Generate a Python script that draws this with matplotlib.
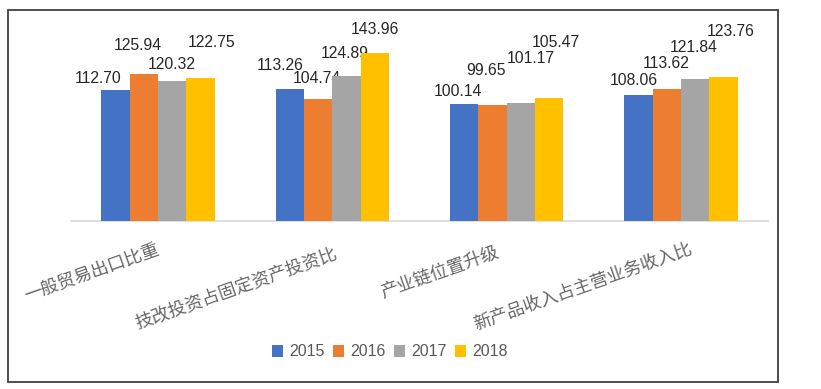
import matplotlib
matplotlib.use("Agg")
import matplotlib.pyplot as plt
from matplotlib.patches import Rectangle
import numpy as np

categories = ["一般贸易出口比重", "技改投资占固定资产投资比", "产业链位置升级", "新产品收入占主营业务收入比"]
years = ["2015", "2016", "2017", "2018"]
v2015 = [112.70, 113.26, 100.14, 108.06]
v2016 = [125.94, 104.74, 99.65, 113.62]
v2017 = [120.32, 124.89, 101.17, 121.84]
v2018 = [122.75, 143.96, 105.47, 123.76]
series = [v2015, v2016, v2017, v2018]
colors = ["#4472C4", "#ED7D31", "#A5A5A5", "#FFC000"]

# label offsets in pixels (dx, dy of label centre above bar top), per series, per category
label_offsets = [
    [(-17.5, 13), (-9.5, 25), (-6.5, 14), (-4.5, 16)],
    [(-6, 30), (-1, 22), (-6, 36), (-1, 27)],
    [(-1, 18), (-1.5, 24), (9.5, 46), (-1, 33)],
    [(11, 37), (0, 25), (6.5, 57), (7.5, 47)],
]
cat_offsets = [(1, -28), (4, -32), (-8, -30), (11, -26.5)]

W, H = 821, 389
fig = plt.figure(figsize=(W / 100, H / 100), dpi=100)
ax = fig.add_axes([71 / W, (H - 221) / H, (768 - 71) / W, 186.4 / H])

x = np.arange(len(categories))
bw = 0.1625
for k, (vals, col) in enumerate(zip(series, colors)):
    pos = x + (k - 1.5) * bw
    ax.bar(pos, vals, width=bw, color=col, label=years[k], zorder=3)
    for i, v in enumerate(vals):
        dx, dy = label_offsets[k][i]
        ax.annotate(f"{v:.2f}", xy=(pos[i], v), xytext=(dx, dy - 6),
                    textcoords="offset pixels", ha="center", va="baseline",
                    fontsize=11.3, color="#262626",
                    family=["Liberation Sans", "DejaVu Sans"], annotation_clip=False)

ax.set_xlim(-0.5, 3.5)
ax.set_ylim(0, 160)
for s in ["top", "right", "left"]:
    ax.spines[s].set_visible(False)
ax.spines["bottom"].set_color("#D9D9D9")
ax.spines["bottom"].set_linewidth(1.2)
ax.set_yticks([])
ax.set_xticks([])
ax.patch.set_visible(False)

for i, cat in enumerate(categories):
    dx, dy = cat_offsets[i]
    ax.annotate(cat, xy=(x[i], 0), xytext=(dx, dy), textcoords="offset pixels",
                ha="right", va="center", rotation=19.5, rotation_mode="anchor",
                fontsize=12.8, color="#666666",
                family=["Noto Sans CJK SC", "DejaVu Sans"], annotation_clip=False)

leg = fig.legend(loc="center", bbox_to_anchor=(390 / W, (H - 352) / H), ncol=4,
                 frameon=False, handlelength=0.7, handleheight=0.7,
                 handletextpad=0.4, columnspacing=0.5,
                 prop={"family": ["Liberation Sans", "DejaVu Sans"], "size": 11.5})
for t in leg.get_texts():
    t.set_color("#595959")

fig.add_artist(Rectangle((8 / W, (H - 382) / H), (778 - 8) / W, (382 - 10) / H,
                         transform=fig.transFigure, fill=False,
                         edgecolor="#404040", linewidth=1.3))

fig.savefig("out.png", dpi=100, facecolor="white")
